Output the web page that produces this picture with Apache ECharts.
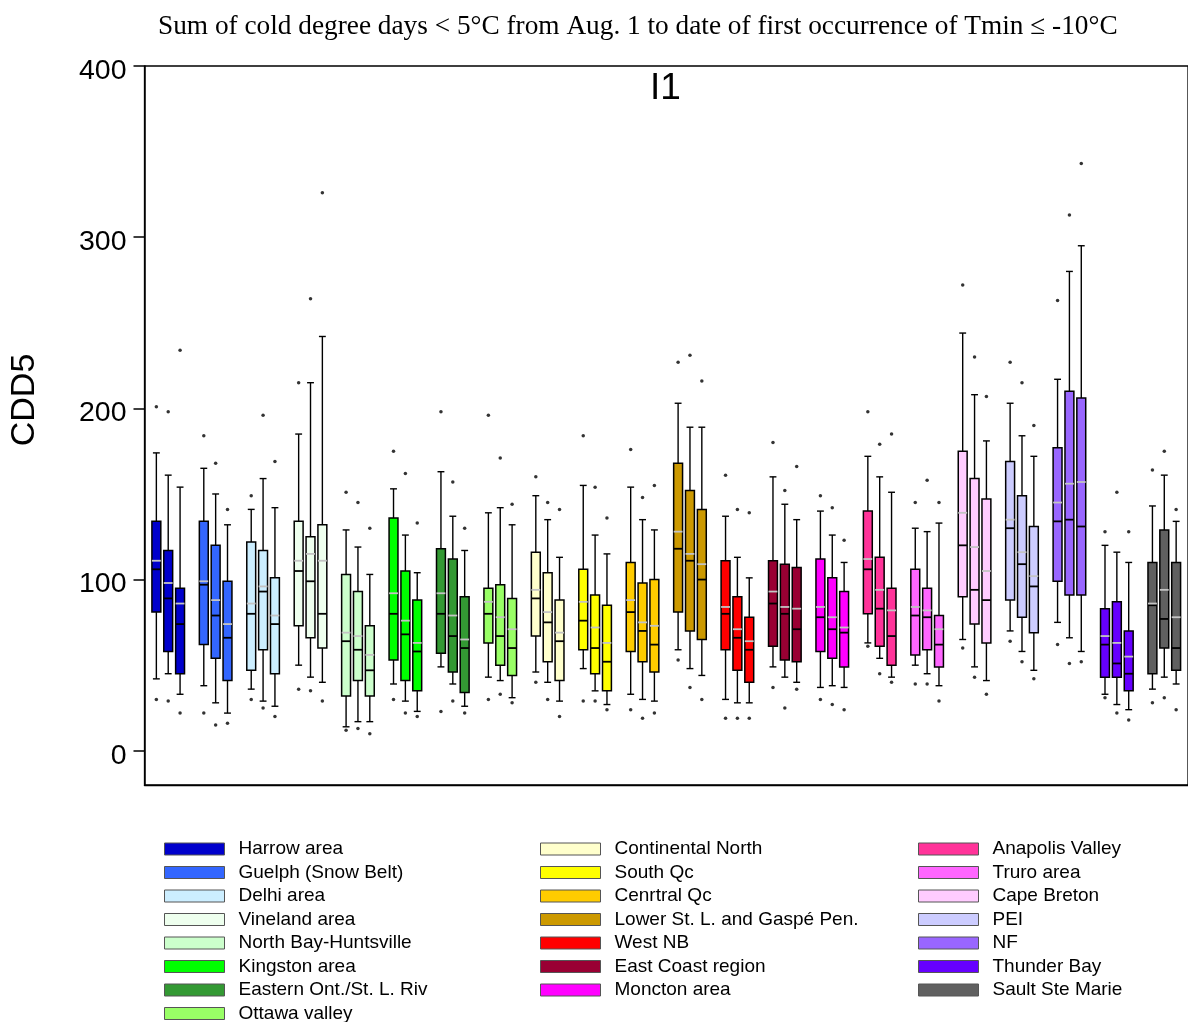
<!DOCTYPE html>
<html>
<head>
<meta charset="utf-8">
<script src="https://cdn.jsdelivr.net/npm/echarts@6/dist/echarts.min.js"></script>
<style>
  html, body { margin: 0; padding: 0; background: #fff; }
  #chart { width: 1188px; height: 1022px; }
</style>
</head>
<body>
<div id="chart"></div>
<script>
// Regions, each with three boxes (periods)
const regions = [
  'Harrow area', 'Guelph (Snow Belt)', 'Delhi area', 'Vineland area',
  'North Bay-Huntsville', 'Kingston area', 'Eastern Ont./St. L. Riv', 'Ottawa valley',
  'Continental North', 'South Qc', 'Cenrtral Qc', 'Lower St. L. and Gaspé Pen.',
  'West NB', 'East Coast region', 'Moncton area',
  'Anapolis Valley', 'Truro area', 'Cape Breton', 'PEI', 'NF', 'Thunder Bay', 'Sault Ste Marie'
];
const regionColors = [
  '#0000CC', '#3366FF', '#CCEEFF', '#EEFFEE',
  '#CCFFCC', '#00FF00', '#339933', '#99FF66',
  '#FFFFCC', '#FFFF00', '#FFCC00', '#CC9900',
  '#FF0000', '#990033', '#FF00FF',
  '#FF3399', '#FF66FF', '#FFCCFF', '#CCCCFF', '#9966FF', '#6600FF', '#606060'
];

// Box statistics (CDD5), three boxes per region
const whiskerHigh = [
  [174,161,154],[165,150,132],[141,159,142],[185,215,242],
  [129,119,103],[153,126,104],[163,137,117],[139,142,132],
  [149,135,113],[155,126,115],[154,135,129],[203,189,189],
  [137,113,101],[160,144,135],[140,126,110],
  [172,160,151],[130,128,133],[244,208,181],[203,184,172],[217,280,295],[120,116,110],[143,161,134]
];
const q3 = [
  [134,117,95],[134,120,99],[122,117,101],[134,125,132],
  [103,93,73],[136,105,88],[118,112,90],[95,97,89],
  [116,104,88],[106,91,85],[110,98,100],[168,152,141],
  [111,90,78],[111,109,107],[112,101,93],
  [140,113,95],[106,95,79],[175,159,147],[169,149,131],[177,210,206],[83,87,70],[110,129,110]
];
const median = [
  [106,89,74],[97,79,66],[80,93,74],[105,99,80],
  [64,59,47],[80,68,58],[80,67,60],[80,67,60],
  [89,75,64],[76,60,52],[81,70,62],[118,111,100],
  [80,66,59],[86,80,71],[78,71,69],
  [106,83,67],[79,78,62],[120,94,88],[130,109,96],[134,135,131],[62,51,45],[85,77,60]
];
const mean = [
  [111,98,86],[99,88,74],[86,96,79],[111,115,111],
  [69,67,56],[92,76,63],[92,79,65],[87,78,71],
  [94,81,69],[87,72,63],[88,75,73],[128,115,109],
  [84,71,64],[93,84,83],[84,78,72],
  [112,94,82],[84,82,71],[139,119,105],[135,116,102],[145,156,157],[67,63,55],[86,94,78]
];
const q1 = [
  [81,58,45],[62,54,41],[47,59,45],[73,66,60],
  [32,41,32],[53,41,35],[57,46,34],[63,50,44],
  [67,52,41],[59,45,35],[58,52,46],[81,70,65],
  [59,47,40],[61,53,52],[58,54,49],
  [80,61,50],[56,59,49],[90,74,63],[88,78,69],[99,91,91],[43,43,35],[45,60,47]
];
const whiskerLow = [
  [42,45,33],[38,28,22],[36,29,26],[50,43,40],
  [14,17,17],[39,29,23],[49,39,26],[43,41,31],
  [46,40,29],[48,35,27],[33,30,29],[59,48,44],
  [30,28,28],[49,43,40],[37,38,37],
  [63,54,43],[50,45,38],[65,49,41],[70,58,47],[75,66,58],[33,27,24],[36,43,39]
];
const outlierHigh = [
  [201,198,234],[184,168,141],[149,196,169],[215,264,326],
  [151,145,130],[175,162,133],[198,157,130],[196,171,144],
  [160,145,141],[184,154,136],[176,148,155],[227,231,216],
  [161,141,139],[180,152,166],[149,142,123],
  [198,179,185],[145,158,145],[272,230,207],[227,215,190],[263,313,343],[128,151,128],[164,175,141]
];
const outlierLow = [
  [30,29,22],[22,15,16],[30,25,20],[36,35,29],
  [12,13,10],[30,22,20],[23,29,22],[30,33,28],
  [40,30,20],[29,29,24],[24,19,22],[53,37,30],
  [19,19,19],[37,25,36],[30,27,24],
  [61,45,40],[39,39,29],[60,43,33],[64,52,42],[62,51,52],[31,22,18],[28,31,24]
];
const yTicks = [0, 100, 200, 300, 400];

// Position of box k of region g on the x axis (3 boxes + 1 gap per region)
const slot = (g, k) => g * 4 + k;

function renderBox(params, api) {
  const x = api.value(0);
  const pWl = api.coord([x, api.value(1)]);
  const pQ1 = api.coord([x, api.value(2)]);
  const pMed = api.coord([x, api.value(3)]);
  const pQ3 = api.coord([x, api.value(4)]);
  const pWh = api.coord([x, api.value(5)]);
  const pMean = api.coord([x, api.value(6)]);
  const cx = pQ1[0];
  const half = api.size([0.75, 0])[0] / 2;
  const cap = api.size([0.58, 0])[0] / 2;
  const ink = { stroke: '#000', lineWidth: 1.4 };
  const line = (x1, y1, x2, y2, style) => ({
    type: 'line', shape: { x1, y1, x2, y2 }, style
  });
  return {
    type: 'group',
    children: [
      line(cx, pQ3[1], cx, pWh[1], ink),
      line(cx - cap, pWh[1], cx + cap, pWh[1], ink),
      line(cx, pQ1[1], cx, pWl[1], ink),
      line(cx - cap, pWl[1], cx + cap, pWl[1], ink),
      {
        type: 'rect',
        shape: { x: cx - half, y: pQ3[1], width: half * 2, height: pQ1[1] - pQ3[1] },
        style: { fill: api.visual('color'), stroke: '#000', lineWidth: 1.5 }
      },
      line(cx - half, pMed[1], cx + half, pMed[1], { stroke: '#000', lineWidth: 1.8 }),
      line(cx - half, pMean[1], cx + half, pMean[1], { stroke: '#C4C4C4', lineWidth: 1.8 })
    ]
  };
}

const boxSeries = regions.map((name, g) => ({
  name: name,
  type: 'custom',
  renderItem: renderBox,
  itemStyle: { color: regionColors[g] },
  encode: { x: 0, y: [1, 2, 3, 4, 5, 6] },
  data: [0, 1, 2].map(k => [
    slot(g, k), whiskerLow[g][k], q1[g][k], median[g][k], q3[g][k], whiskerHigh[g][k], mean[g][k]
  ]),
  z: 2
}));

const outlierPoints = [];
regions.forEach((_, g) => {
  [0, 1, 2].forEach(k => {
    outlierPoints.push([slot(g, k), outlierHigh[g][k]]);
    outlierPoints.push([slot(g, k), outlierLow[g][k]]);
  });
});

const legendBase = {
  orient: 'vertical',
  icon: 'rect',
  itemWidth: 60,
  itemHeight: 12,
  itemGap: 3.5,
  padding: 0,
  selectedMode: false,
  top: 839,
  height: 200,
  itemStyle: { borderColor: '#555', borderWidth: 1 },
  textStyle: {
    fontFamily: 'Liberation Sans', fontSize: 19, color: '#000',
    lineHeight: 20, padding: [0, 0, 0, 9]
  }
};

const chart = echarts.init(document.getElementById('chart'), null, { renderer: 'canvas' });
chart.setOption({
  animation: false,
  backgroundColor: '#fff',
  title: {
    text: 'Sum of cold degree days < 5°C from Aug. 1 to date of first occurrence of Tmin ≤ -10°C',
    left: 158,
    top: 13,
    padding: 0,
    textStyle: { fontFamily: 'Liberation Serif', fontSize: 27.3, fontWeight: 'normal', color: '#000' }
  },
  grid: {
    left: 144.5, top: 66, width: 1056, height: 719,
    show: true, borderColor: '#000', borderWidth: 1.3, backgroundColor: 'transparent'
  },
  xAxis: {
    type: 'value', min: -1, max: 87,
    axisLine: { show: true, onZero: false, lineStyle: { color: '#000', width: 1.3 } },
    axisTick: { show: false }, axisLabel: { show: false }, splitLine: { show: false }
  },
  yAxis: {
    type: 'value', min: -20, max: 400,
    axisLine: { show: true, onZero: false, lineStyle: { color: '#000', width: 1.5 } },
    axisTick: { show: true, length: 11, customValues: yTicks, lineStyle: { color: '#000', width: 1.5 } },
    axisLabel: {
      customValues: yTicks, margin: 18,
      formatter: '{t|{value}}',
      rich: {
        t: {
          fontFamily: 'Liberation Sans', fontSize: 28.5, color: '#000',
          padding: [10, 0, 0, 0]
        }
      }
    },
    splitLine: { show: false }
  },
  legend: [
    Object.assign({}, legendBase, { left: 164, data: regions.slice(0, 8) }),
    Object.assign({}, legendBase, { left: 540, data: regions.slice(8, 15) }),
    Object.assign({}, legendBase, { left: 918, data: regions.slice(15, 22) })
  ],
  graphic: [
    {
      type: 'text', left: 650, top: 70,
      style: { text: 'I1', font: '37px "Liberation Sans"', fill: '#000' }
    },
    {
      type: 'text', x: 25, y: 400, rotation: Math.PI / 2,
      style: {
        text: 'CDD5', font: '34px "Liberation Sans"', fill: '#000',
        align: 'center', verticalAlign: 'middle'
      }
    }
  ],
  series: boxSeries.concat([{
    name: 'outliers',
    type: 'scatter',
    symbol: 'circle',
    symbolSize: 3.5,
    itemStyle: { color: '#000' },
    data: outlierPoints,
    z: 3
  }])
});
</script>
</body>
</html>
